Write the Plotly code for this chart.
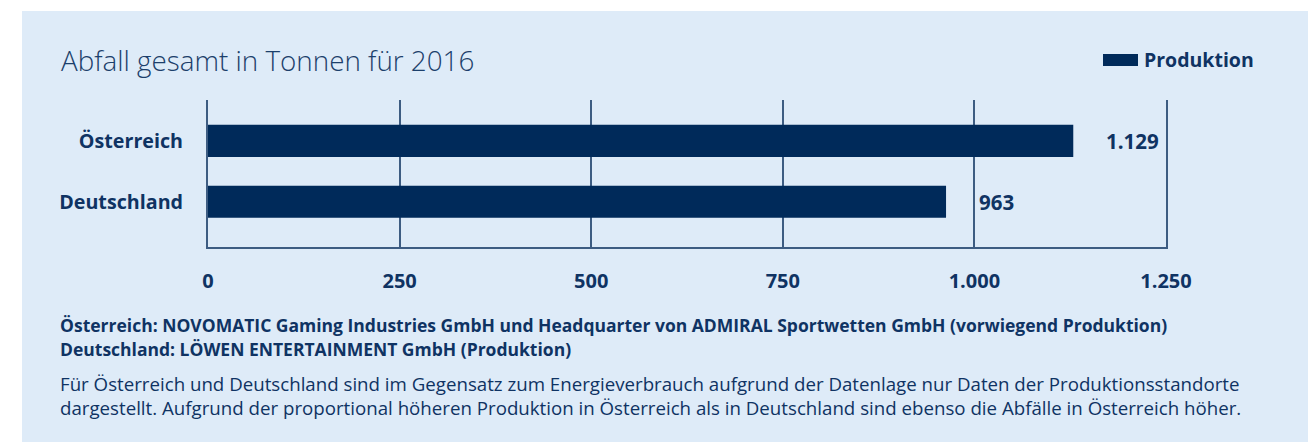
import plotly.graph_objects as go

# ---- data ----
categories = ["Deutschland", "Österreich"]
values = [963, 1129]
series_name = "Produktion"
x_ticks = [0, 250, 500, 750, 1000, 1250]
title_text = "Abfall gesamt in Tonnen für 2016"
note_bold = [
    "Österreich: NOVOMATIC Gaming Industries GmbH und Headquarter von ADMIRAL Sportwetten GmbH (vorwiegend Produktion)",
    "Deutschland: LÖWEN ENTERTAINMENT GmbH (Produktion)",
]
note_text = [
    "Für Österreich und Deutschland sind im Gegensatz zum Energieverbrauch aufgrund der Datenlage nur Daten der Produktionsstandorte",
    "dargestellt. Aufgrund der proportional höheren Produktion in Österreich als in Deutschland sind ebenso die Abfälle in Österreich höher.",
]

def de(n):
    return f"{n:,}".replace(",", ".")

W, H = 1316, 444
L, R, T, B = 208, 150, 100, 197
PW, PH = W - L - R, H - T - B

def px_x(p):
    return (p - L) / PW

def px_y(p):
    return (H - B - p) / PH

BAR = "#002a5a"
TXT = "#0f3363"
GRID = "#3d5c82"
PANEL = "#deebf8"
FONT = "Open Sans"

fig = go.Figure()
fig.add_trace(go.Bar(
    y=categories, x=values, orientation="h", name=series_name,
    marker=dict(color=BAR, line=dict(width=0)), width=0.525,
    showlegend=False, hoverinfo="skip",
))

annotations = []
for c, v in zip(categories, values):
    annotations.append(dict(
        x=v, y=c, xref="x", yref="y", text=f"<b>{de(v)}</b>", showarrow=False,
        xanchor="left", xshift=31, font=dict(family=FONT, size=20.5, color=TXT),
    ))

annotations.append(dict(
    x=px_x(59), y=px_y(60), xref="paper", yref="paper", text=title_text,
    showarrow=False, xanchor="left", yanchor="middle",
    font=dict(family=FONT, size=27.8, color="#1c3f6b", weight=300),
))
annotations.append(dict(
    x=px_x(1142), y=px_y(60), xref="paper", yref="paper", text=f"<b>{series_name}</b>",
    showarrow=False, xanchor="left", yanchor="middle",
    font=dict(family=FONT, size=19.5, color=TXT),
))
for i, t in enumerate(note_bold):
    annotations.append(dict(
        x=px_x(58), y=px_y(325 + 24 * i), xref="paper", yref="paper", text=f"<b>{t}</b>",
        showarrow=False, xanchor="left", yanchor="middle",
        font=dict(family=FONT, size=17.5, color=TXT),
    ))
for i, t in enumerate(note_text):
    annotations.append(dict(
        x=px_x(58), y=px_y(383 + 24 * i), xref="paper", yref="paper", text=t,
        showarrow=False, xanchor="left", yanchor="middle",
        font=dict(family=FONT, size=18.7, color=TXT),
    ))

shapes = [
    dict(type="rect", xref="paper", yref="paper", layer="below",
         x0=px_x(22), x1=px_x(1308), y0=px_y(442), y1=px_y(11),
         fillcolor=PANEL, line=dict(width=0)),
    dict(type="rect", xref="paper", yref="paper",
         x0=px_x(1103), x1=px_x(1138), y0=px_y(66), y1=px_y(54),
         fillcolor=BAR, line=dict(width=0)),
]

fig.update_layout(
    width=W, height=H,
    margin=dict(l=L, r=R, t=T, b=B, pad=0),
    paper_bgcolor="white", plot_bgcolor="rgba(0,0,0,0)",
    separators=",.",
    font=dict(family=FONT, color=TXT),
    annotations=annotations, shapes=shapes,
    xaxis=dict(
        range=[0, 1250], tickvals=x_ticks, ticktext=[f"<b>{de(t)}</b>" for t in x_ticks],
        showgrid=True, gridcolor=GRID, gridwidth=2,
        zeroline=False, showline=True, linecolor=GRID, linewidth=2,
        ticks="", ticklabelstandoff=15, tickfont=dict(family=FONT, size=20, color=TXT),
        fixedrange=True,
    ),
    yaxis=dict(
        categoryorder="array", categoryarray=categories,
        range=[-0.74, 1.67], showgrid=False, zeroline=False,
        showline=True, mirror=True, linecolor=GRID, linewidth=2,
        ticks="", ticklabelstandoff=19,
        tickvals=categories, ticktext=[f"<b>{c}</b>" for c in categories],
        tickfont=dict(family=FONT, size=19.7, color=TXT), fixedrange=True,
    ),
)

fig.write_html("out.html", config={"displayModeBar": False},
               post_script="document.body.style.margin='0';")
